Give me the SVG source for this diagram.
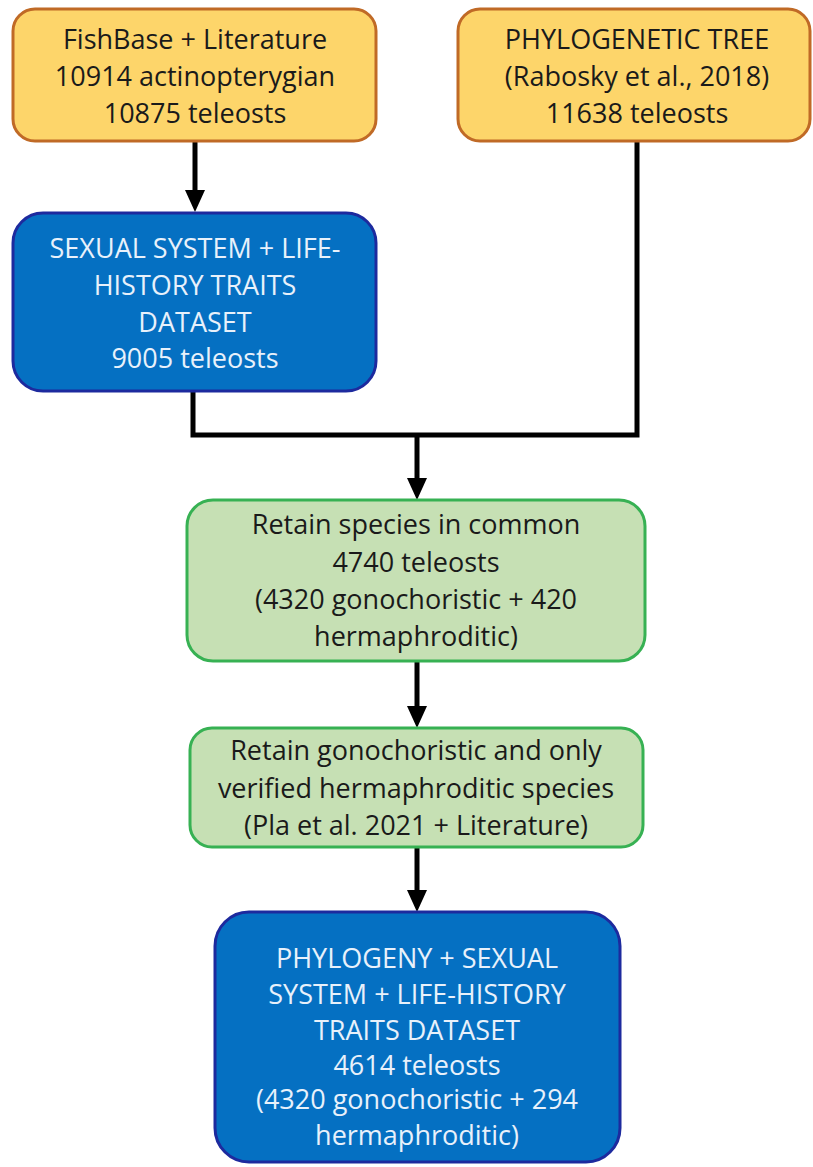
<svg xmlns="http://www.w3.org/2000/svg" width="813" height="1167" viewBox="0 0 813 1167">
<style>
.t{font-family:"Open Sans","Noto Sans","Liberation Sans",sans-serif;font-size:27px;text-anchor:middle}
.dk{fill:#1a1a1a}
.lt{fill:#e8f1fb}
.or{fill:#fdd56a;stroke:#c06a26;stroke-width:3}
.bl{fill:#0570c2;stroke:#1d2a9e;stroke-width:3}
.gr{fill:#c6e0b4;stroke:#37b153;stroke-width:3}
.c{fill:none;stroke:#000;stroke-width:5}
</style>
<defs>
<path id="ah" d="M-10,-22 H10 L0,0 Z" fill="#000"/>
</defs>
<g id="connectors">
<path class="c" d="M195,142 V194"/>
<path class="c" d="M193,392 V435 H637 V140"/>
<path class="c" d="M417,435 V482"/>
<path class="c" d="M417,662 V710"/>
<path class="c" d="M417,848 V894"/>
<use href="#ah" x="195" y="212"/>
<use href="#ah" x="417" y="500"/>
<use href="#ah" x="417" y="728"/>
<use href="#ah" x="417" y="912"/>
</g>
<g id="fishbase">
<rect class="or" x="13" y="9" width="363" height="132" rx="22"/>
<text class="t dk" x="195" y="49">FishBase + Literature</text>
<text class="t dk" x="195" y="86">10914 actinopterygian</text>
<text class="t dk" x="195" y="123">10875 teleosts</text>
</g>
<g id="phylotree">
<rect class="or" x="458" y="9" width="352" height="132" rx="22"/>
<text class="t dk" x="637" y="49">PHYLOGENETIC TREE</text>
<text class="t dk" x="637" y="86">(Rabosky et al., 2018)</text>
<text class="t dk" x="637" y="123">11638 teleosts</text>
</g>
<g id="sexualsystem">
<rect class="bl" x="13" y="213" width="363" height="178" rx="30"/>
<text class="t lt" x="195" y="258">SEXUAL SYSTEM + LIFE-</text>
<text class="t lt" x="195" y="295">HISTORY TRAITS</text>
<text class="t lt" x="195" y="332">DATASET</text>
<text class="t lt" x="195" y="368">9005 teleosts</text>
</g>
<g id="retaincommon">
<rect class="gr" x="187" y="500" width="458" height="161" rx="26"/>
<text class="t dk" x="416" y="534">Retain species in common</text>
<text class="t dk" x="416" y="572">4740 teleosts</text>
<text class="t dk" x="416" y="609">(4320 gonochoristic + 420</text>
<text class="t dk" x="416" y="646">hermaphroditic)</text>
</g>
<g id="retainverified">
<rect class="gr" x="190" y="728" width="453" height="119" rx="22"/>
<text class="t dk" x="416" y="760">Retain gonochoristic and only</text>
<text class="t dk" x="416" y="798">verified hermaphroditic species</text>
<text class="t dk" x="416" y="835">(Pla et al. 2021 + Literature)</text>
</g>
<g id="final">
<rect class="bl" x="215" y="912" width="405" height="250" rx="34"/>
<text class="t lt" x="417" y="968">PHYLOGENY + SEXUAL</text>
<text class="t lt" x="417" y="1004">SYSTEM + LIFE-HISTORY</text>
<text class="t lt" x="417" y="1040">TRAITS DATASET</text>
<text class="t lt" x="417" y="1075">4614 teleosts</text>
<text class="t lt" x="417" y="1109">(4320 gonochoristic + 294</text>
<text class="t lt" x="417" y="1145">hermaphroditic)</text>
</g>
</svg>
